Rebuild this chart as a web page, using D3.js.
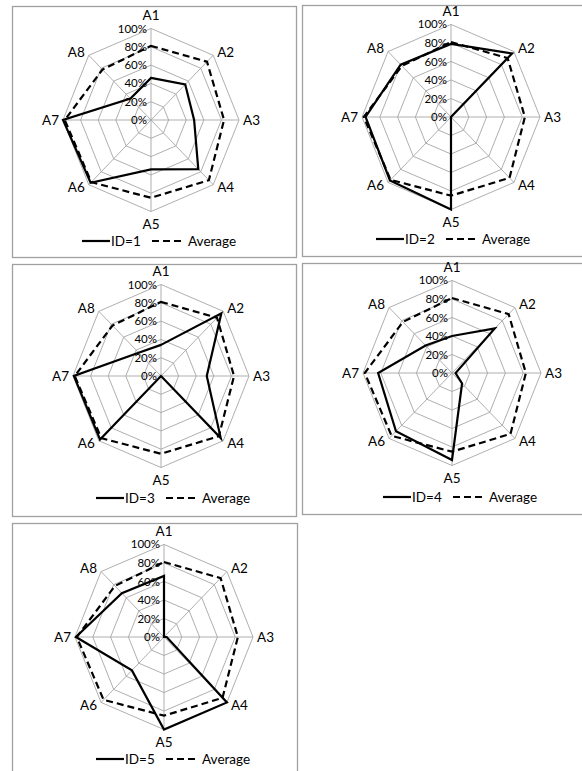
<!DOCTYPE html>
<html>
<head>
<meta charset="utf-8">
<script src="https://cdn.jsdelivr.net/npm/d3@7"></script>
<style>
  body { margin: 0; background: #fff; }
  text { font-family: Lato, "Open Sans", sans-serif; fill: #000; }
</style>
</head>
<body>
<svg id="chart" width="582" height="771"></svg>
<script>
// axis names and tick labels
var axes = ["A1", "A2", "A3", "A4", "A5", "A6", "A7", "A8"];
var ticks = [0, 0.2, 0.4, 0.6, 0.8, 1.0];
var tickLabels = ["0%", "20%", "40%", "60%", "80%", "100%"];

// values (share of max)
var average = [0.81, 0.90, 0.83, 0.93, 0.85, 0.96, 0.98, 0.78];
var id1 = [0.46, 0.55, 0.49, 0.76, 0.54, 0.97, 1.00, 0.33];
var id2 = [0.79, 0.97, 0.00, 0.00, 1.00, 0.97, 0.96, 0.80];
var id3 = [0.34, 0.97, 0.52, 0.96, 0.00, 0.98, 0.99, 0.36];
var id4 = [0.40, 0.68, 0.04, 0.16, 0.94, 0.89, 0.83, 0.42];
var id5 = [0.66, 0.00, 0.03, 1.00, 1.00, 0.51, 0.99, 0.67];
var seriesNames = ["ID=1", "ID=2", "ID=3", "ID=4", "ID=5"];
var seriesValues = [id1, id2, id3, id4, id5];

// panel placement (box, radar centre, radius, legend anchor)
var panels = [
  {box: [12, 6, 284, 251],  c: [151, 120], r: 88, leg: [162, 241]},
  {box: [302, 5, 290, 251], c: [451, 117], r: 89, leg: [456, 239]},
  {box: [12, 264, 284, 252], c: [161, 376], r: 88, leg: [176, 498]},
  {box: [302, 263, 290, 251], c: [452, 373], r: 89, leg: [463, 497]},
  {box: [12, 523, 285, 260], c: [164, 637], r: 89, leg: [176, 759]}
];
var stretchY = 1.04; // the picture is a little taller than wide

var svg = d3.select("#chart");

var angle = d3.scalePoint().domain(axes.concat(["_end"])).range([0, 2 * Math.PI]);

panels.forEach(function(p, k) {
  var r = d3.scaleLinear().domain([0, 1]).range([0, p.r]);

  svg.append("rect")
    .attr("x", p.box[0] + 0.5).attr("y", p.box[1] + 0.5)
    .attr("width", p.box[2]).attr("height", p.box[3])
    .attr("fill", "none").attr("stroke", "#a0a0a0").attr("stroke-width", 1.3);

  var g = svg.append("g").attr("transform", "translate(" + p.c[0] + "," + p.c[1] + ")");

  var pt = function(v, i) {
    var a = angle(axes[i]);
    return [r(v) * Math.sin(a), -r(v) * Math.cos(a) * stretchY];
  };
  var line = d3.line().x(function(d) { return d[0]; }).y(function(d) { return d[1]; })
    .curve(d3.curveLinearClosed);

  // rings
  g.selectAll(".ring").data(ticks.slice(1)).enter().append("path")
    .attr("d", function(t) { return line(axes.map(function(a, i) { return pt(t, i); })); })
    .attr("fill", "none").attr("stroke", "#a6a6a6").attr("stroke-width", 0.9);

  // spokes
  g.selectAll(".spoke").data(axes).enter().append("line")
    .attr("x1", 0).attr("y1", 0)
    .attr("x2", function(a, i) { return pt(1, i)[0]; })
    .attr("y2", function(a, i) { return pt(1, i)[1]; })
    .attr("stroke", "#a6a6a6").attr("stroke-width", 0.9);

  // tick labels
  g.selectAll(".tick").data(ticks).enter().append("text")
    .attr("x", -4).attr("y", function(t) { return -r(t) * stretchY; })
    .attr("dy", "0.35em").attr("text-anchor", "end")
    .attr("font-size", 11.5)
    .text(function(t, i) { return tickLabels[i]; });

  // axis labels
  g.selectAll(".axlab").data(axes).enter().append("text")
    .attr("x", function(a, i) {
      var v = pt(1, i), s = Math.sin(angle(a));
      return v[0] + (Math.abs(s) < 0.1 ? 0 : (s > 0 ? 4 : -4));
    })
    .attr("y", function(a, i) {
      var v = pt(1, i), c = -Math.cos(angle(a));
      return v[1] + (Math.abs(c) > 0.9 ? c * 13 : c * 4);
    })
    .attr("dy", "0.35em")
    .attr("text-anchor", function(a) {
      var s = Math.sin(angle(a));
      return Math.abs(s) < 0.1 ? "middle" : (s > 0 ? "start" : "end");
    })
    .attr("font-size", 13.5)
    .text(function(a) { return a; });

  // series
  g.append("path")
    .attr("d", line(average.map(pt)))
    .attr("fill", "none").attr("stroke", "#000").attr("stroke-width", 2.2)
    .attr("stroke-dasharray", "7,4");

  g.append("path")
    .attr("d", line(seriesValues[k].map(pt)))
    .attr("fill", "none").attr("stroke", "#000").attr("stroke-width", 2.2)
    .attr("stroke-linejoin", "miter");

  // legend
  var lg = svg.append("g");
  var x0 = p.leg[0] - 80, y0 = p.leg[1];
  lg.append("line").attr("x1", x0).attr("x2", x0 + 28).attr("y1", y0).attr("y2", y0)
    .attr("stroke", "#000").attr("stroke-width", 2.2);
  lg.append("text").attr("x", x0 + 29).attr("y", y0).attr("dy", "0.35em")
    .attr("font-size", 13.5).text(seriesNames[k]);
  lg.append("line").attr("x1", x0 + 70).attr("x2", x0 + 100).attr("y1", y0).attr("y2", y0)
    .attr("stroke", "#000").attr("stroke-width", 2.2).attr("stroke-dasharray", "7,4");
  lg.append("text").attr("x", x0 + 106).attr("y", y0).attr("dy", "0.35em")
    .attr("font-size", 13.5).text("Average");
});
</script>
</body>
</html>
